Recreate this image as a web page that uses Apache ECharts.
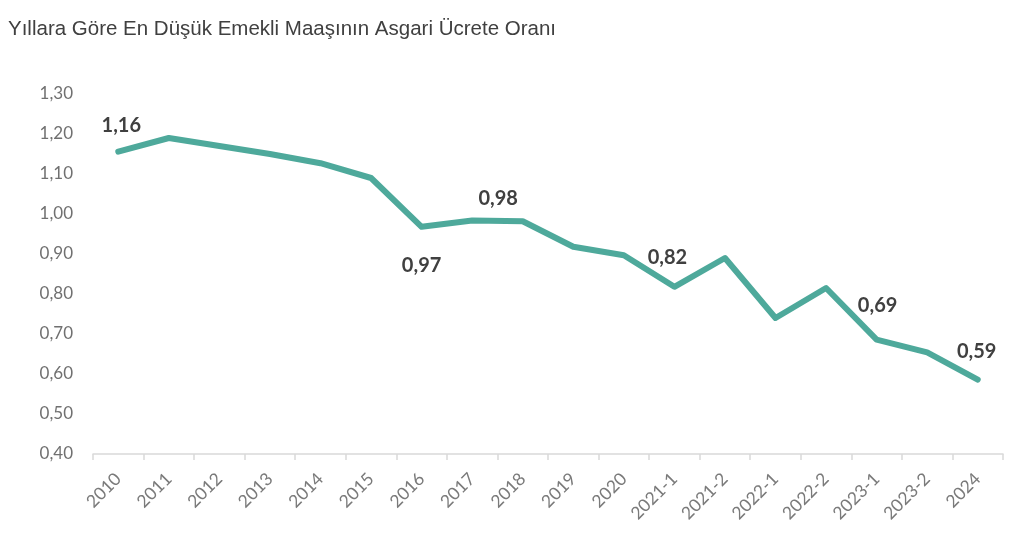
<!DOCTYPE html>
<html>
<head>
<meta charset="utf-8">
<script src="https://cdn.jsdelivr.net/npm/echarts@6/dist/echarts.min.js"></script>
<style>
html,body{margin:0;padding:0;background:#fff;}
#c{width:1024px;height:551px;}
</style>
</head>
<body>
<div id="c"></div>
<script>
const categories = ['2010','2011','2012','2013','2014','2015','2016','2017','2018','2019','2020','2021-1','2021-2','2022-1','2022-2','2023-1','2023-2','2024'];
const ratios = [1.156, 1.19, 1.17, 1.15, 1.127, 1.09, 0.968, 0.984, 0.982, 0.918, 0.897, 0.818, 0.89, 0.74, 0.815, 0.686, 0.654, 0.586];
const labelledPoints = ['2010','2016','2017','2021-1','2023-1','2024'];
const yTicks = {min: 0.4, max: 1.3, step: 0.1};

const labelPlacement = {
  '2010': {position: 'top', offset: [3, -11]},
  '2016': {position: 'bottom', offset: [0, 24]},
  '2017': {position: 'top', offset: [26, -7]},
  '2021-1': {position: 'top', offset: [-7, -14]},
  '2023-1': {position: 'top', offset: [1, -19]},
  '2024': {position: 'top', offset: [-1, -13]}
};

const fmt = v => (Math.round(v * 100) / 100).toFixed(2).replace('.', ',');

const seriesData = ratios.map((v, i) => {
  const cat = categories[i];
  if (labelledPoints.includes(cat)) {
    const p = labelPlacement[cat];
    return {
      value: v,
      label: {
        show: true,
        position: p.position,
        offset: p.offset,
        formatter: d => fmt(d.value),
        fontFamily: 'Lato, "Open Sans", sans-serif',
        fontWeight: 'bold',
        fontSize: 20,
        color: '#404040'
      }
    };
  }
  return v;
});

const chart = echarts.init(document.getElementById('c'));
chart.setOption({
  backgroundColor: '#ffffff',
  animation: false,
  title: {
    text: 'Yıllara Göre En Düşük Emekli Maaşının Asgari Ücrete Oranı',
    left: 3,
    top: 14,
    textStyle: {
      fontFamily: '"Liberation Sans", Arial, sans-serif',
      fontWeight: 'normal',
      fontSize: 20.5,
      color: '#404040'
    }
  },
  grid: {left: 93, right: 21, top: 94, bottom: 97, containLabel: false},
  xAxis: {
    type: 'category',
    data: categories,
    boundaryGap: true,
    axisLine: {show: true, lineStyle: {color: '#d9d9d9', width: 1.5}},
    axisTick: {show: true, alignWithLabel: false, length: 6, lineStyle: {color: '#d9d9d9', width: 1.5}},
    axisLabel: {
      rotate: 45,
      interval: 0,
      margin: 22,
      fontFamily: 'Lato, "Open Sans", sans-serif',
      fontSize: 17.5,
      color: '#7a7a7a'
    },
    splitLine: {show: false}
  },
  yAxis: {
    type: 'value',
    min: yTicks.min,
    max: yTicks.max,
    interval: yTicks.step,
    axisLine: {show: false},
    axisTick: {show: false},
    splitLine: {show: false},
    axisLabel: {
      margin: 20,
      formatter: v => v.toFixed(2).replace('.', ','),
      fontFamily: 'Lato, "Open Sans", sans-serif',
      fontSize: 17,
      color: '#707070'
    }
  },
  series: [{
    type: 'line',
    data: seriesData,
    smooth: false,
    showSymbol: true,
    symbol: 'circle',
    symbolSize: 0,
    lineStyle: {color: '#4ea99b', width: 6, cap: 'round', join: 'round'},
    itemStyle: {color: '#4ea99b'}
  }]
});
</script>
</body>
</html>
